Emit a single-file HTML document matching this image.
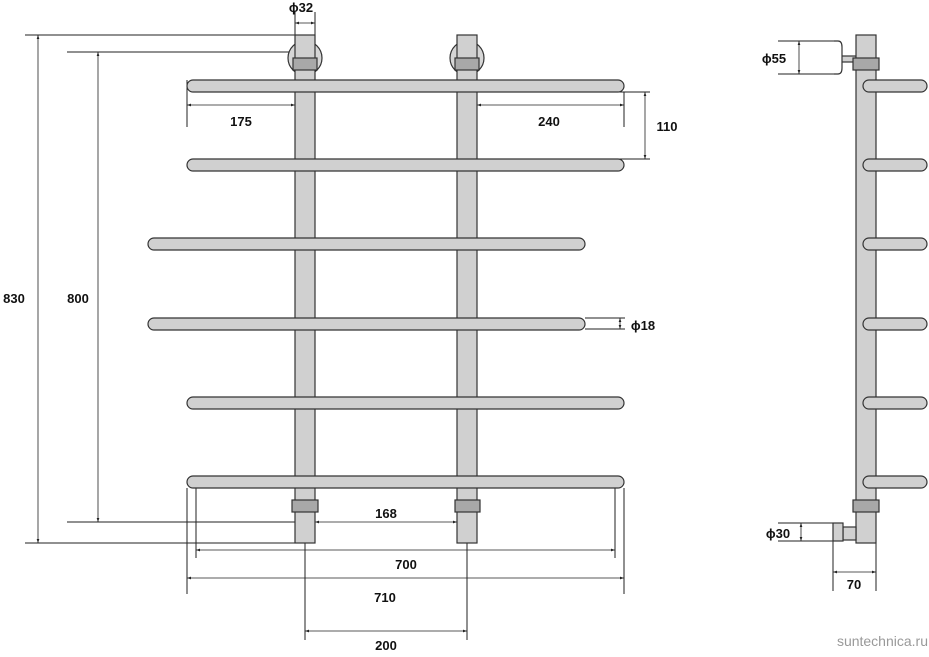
<!DOCTYPE html>
<html><head><style>body{margin:0;background:#fff}</style></head><body>
<svg width="929" height="652" viewBox="0 0 929 652" xmlns="http://www.w3.org/2000/svg" font-family="Liberation Sans, sans-serif">
<defs><marker id="a" viewBox="0 0 6 6" refX="6" refY="3" markerWidth="5" markerHeight="5" orient="auto-start-reverse"><path d="M0,1L6,3L0,5z" fill="#222"/></marker></defs>
<g stroke="#222" stroke-width="1" fill="none">
<!-- extension lines -->
<path d="M25,35H295M67,52H295M67,522H295M25,543H295"/>
<path d="M187,80V127M624,92V127M597,92H650M597,159H650M585,318H625M585,329H625"/>
<path d="M196,488V558M615,488V558M187,488V594M624,488V594M305,512V640M467,512V640M295,12V36M315,12V36"/>
<path d="M778,41H838M778,74H838M778,523H834M778,541H834M833,541V591M876,543V591"/>
</g>
<g stroke="#222" stroke-width="0.8" marker-start="url(#a)" marker-end="url(#a)">
<line x1="38" y1="35" x2="38" y2="543"/><line x1="98" y1="52" x2="98" y2="522"/>
<line x1="187" y1="105" x2="295" y2="105"/><line x1="477" y1="105" x2="624" y2="105"/>
<line x1="645" y1="92" x2="645" y2="159"/><line x1="620" y1="318" x2="620" y2="329"/>
<line x1="295" y1="23" x2="315" y2="23"/><line x1="315" y1="522" x2="457" y2="522"/>
<line x1="196" y1="550" x2="615" y2="550"/><line x1="187" y1="578" x2="624" y2="578"/>
<line x1="305" y1="631" x2="467" y2="631"/><line x1="799" y1="41" x2="799" y2="74"/>
<line x1="801" y1="523" x2="801" y2="541"/><line x1="833" y1="572" x2="876" y2="572"/>
</g>
<g stroke="#333" stroke-width="1.2">
<circle cx="305" cy="58" r="17" fill="#d6d6d6"/><circle cx="467" cy="58" r="17" fill="#d6d6d6"/>
<rect x="295" y="35" width="20" height="508" fill="#d0d0d0"/>
<rect x="457" y="35" width="20" height="508" fill="#d0d0d0"/>
<g fill="#d0d0d0">
<rect x="187" y="80" width="437" height="12" rx="6"/><rect x="187" y="159" width="437" height="12" rx="6"/>
<rect x="148" y="238" width="437" height="12" rx="6"/><rect x="148" y="318" width="437" height="12" rx="6"/>
<rect x="187" y="397" width="437" height="12" rx="6"/><rect x="187" y="476" width="437" height="12" rx="6"/>
</g>
<g fill="#a8a8a8">
<rect x="293" y="58" width="24" height="12"/><rect x="455" y="58" width="24" height="12"/>
<rect x="292" y="500" width="26" height="12"/><rect x="455" y="500" width="25" height="12"/>
</g>
<!-- side view -->
<rect x="838" y="56" width="18" height="6" fill="#d0d0d0"/>
<path d="M834,41H838Q842,41 842,47V68Q842,74 838,74H834" fill="#fff"/>
<rect x="856" y="35" width="20" height="508" fill="#d0d0d0"/>
<g fill="#d0d0d0">
<rect x="863" y="80" width="64" height="12" rx="6"/><rect x="863" y="159" width="64" height="12" rx="6"/>
<rect x="863" y="238" width="64" height="12" rx="6"/><rect x="863" y="318" width="64" height="12" rx="6"/>
<rect x="863" y="397" width="64" height="12" rx="6"/><rect x="863" y="476" width="64" height="12" rx="6"/>
<rect x="843" y="527" width="13" height="13"/><rect x="833" y="523" width="10" height="18"/>
</g>
<rect x="853" y="58" width="26" height="12" fill="#a8a8a8"/><rect x="853" y="500" width="26" height="12" fill="#a8a8a8"/>
</g>
<g font-size="13" font-weight="bold" fill="#111" text-anchor="middle">
<text x="14" y="303">830</text><text x="78" y="303">800</text>
<text x="241" y="126">175</text><text x="549" y="126">240</text><text x="667" y="131">110</text>
<text x="301" y="12">ϕ32</text><text x="643" y="330">ϕ18</text>
<text x="386" y="518">168</text><text x="406" y="569">700</text><text x="385" y="602">710</text><text x="386" y="650">200</text>
<text x="774" y="63">ϕ55</text><text x="778" y="538">ϕ30</text><text x="854" y="589">70</text>
</g>
<text x="928" y="646" font-size="14" fill="#999" text-anchor="end">suntechnica.ru</text>
</svg>
</body></html>
